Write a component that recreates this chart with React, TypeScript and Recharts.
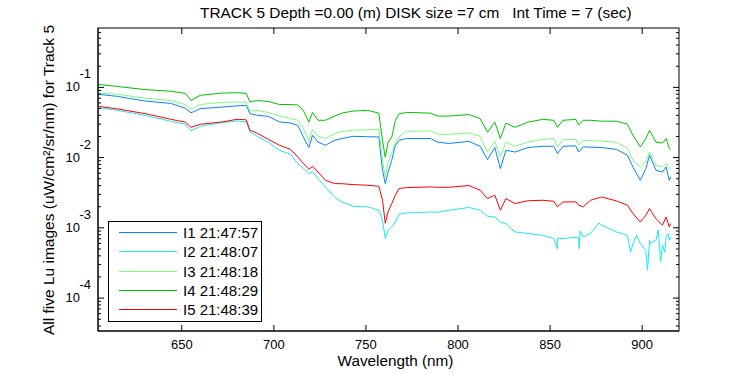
import React from "react";
import { LineChart, Line, XAxis, YAxis } from "recharts";

const FONT = '"Liberation Sans", Arial, Helvetica, sans-serif';

const CHART_W = 750;
const CHART_H = 375;
const MARGIN = { top: 28, right: 71, bottom: 0, left: 0 };
const Y_AXIS_W = 98;
const X_AXIS_H = 44;

// wavelength grid (nm)
const wavelengths = [
  605, 615, 630, 644, 652, 655, 660, 672, 680, 685,
  687, 691, 697, 703, 709, 713, 716, 719, 721, 724,
  728, 733, 737, 743, 751, 757, 759, 760.5, 762, 764,
  766, 768, 772, 785, 789, 795, 806, 812, 816, 820,
  823, 826, 831, 838, 846, 852, 854, 857, 864, 865.5,
  868, 872, 878, 886, 892, 895, 899, 902, 904, 907.5,
  911, 913, 914.7, 915.5,
];

const i1 = [
  0.0795, 0.0744, 0.0639, 0.0591, 0.0503, 0.0434, 0.0498, 0.0524, 0.0545, 0.0554,
  0.0423, 0.04, 0.0387, 0.0322, 0.0311, 0.0288, 0.0197, 0.0139, 0.0208, 0.0166,
  0.015, 0.0176, 0.0187, 0.0201, 0.0198, 0.0197, 0.0066, 0.00427, 0.00618, 0.00916,
  0.015, 0.0176, 0.0187, 0.0187, 0.0166, 0.0159, 0.017, 0.0145, 0.00937, 0.0139,
  0.00698, 0.0127, 0.012, 0.0139, 0.0145, 0.0145, 0.0114, 0.0145, 0.0147, 0.012,
  0.0142, 0.0141, 0.0139, 0.0131, 0.0108, 0.00735, 0.00475, 0.00698, 0.0108, 0.0066,
  0.00624, 0.00735, 0.00475, 0.0053,
];

const i2 = [
  0.0514, 0.0471, 0.04, 0.0329, 0.0298, 0.0241, 0.0279, 0.0315, 0.0332, 0.0322,
  0.0232, 0.0201, 0.0165, 0.0127, 0.0112, 0.00821, 0.00705, 0.00593, 0.00624, 0.00502,
  0.00382, 0.00275, 0.00234, 0.00203, 0.00199, 0.00178, 0.00128, 0.000705, 0.000925, 0.00103,
  0.00121, 0.00156, 0.00163, 0.00168, 0.00167, 0.00178, 0.00195, 0.00178, 0.00146, 0.00143,
  0.00121, 0.00115, 0.000875, 0.00083, 0.000785, 0.000705, 0.000712, 0.000705, 0.000736, 0.000712,
  0.000743, 0.000838, 0.00109, 0.000875, 0.000785, 0.000598, 0.000598, 0.00048, 0.000667, 0.000667,
  0.000566, 0.000743, 0.000667, 0.000743,
];

// noisy spikes in the I2 trace past 850 nm
const i2SpikeW = [853.9, 865.8, 866.3, 876.5, 893.7, 897, 902.9, 904.2, 908.7, 910, 912.3, 914.2];
const i2SpikeV = [0.000505, 0.000505, 0.0009, 0.00117, 0.00045, 0.000785, 0.000249, 0.0006, 0.00094, 0.00033, 0.00045, 0.00083];

const i3 = [
  0.083, 0.08, 0.07, 0.065, 0.057, 0.049, 0.057, 0.061, 0.062, 0.061,
  0.046, 0.047, 0.044, 0.039, 0.036, 0.034, 0.026, 0.017, 0.025, 0.02,
  0.0187, 0.022, 0.0237, 0.0245, 0.0249, 0.0251, 0.00916, 0.0053, 0.0086, 0.0119,
  0.0165, 0.0197, 0.0237, 0.024, 0.0215, 0.0215, 0.0224, 0.0201, 0.012, 0.017,
  0.0102, 0.0166, 0.0145, 0.0166, 0.0182, 0.0187, 0.0142, 0.018, 0.0182, 0.015,
  0.0176, 0.0174, 0.0172, 0.0165, 0.0136, 0.00916, 0.00735, 0.00866, 0.012, 0.00777,
  0.00735, 0.00821, 0.00705, 0.0066,
];

const i4 = [
  0.11, 0.103, 0.093, 0.088, 0.082, 0.065, 0.077, 0.083, 0.084, 0.082,
  0.062, 0.065, 0.063, 0.057, 0.057, 0.056, 0.047, 0.032, 0.044, 0.034,
  0.034, 0.039, 0.043, 0.046, 0.047, 0.043, 0.0176, 0.0101, 0.0166, 0.0195,
  0.034, 0.042, 0.044, 0.043, 0.039, 0.039, 0.041, 0.036, 0.023, 0.032,
  0.0187, 0.031, 0.027, 0.032, 0.035, 0.034, 0.027, 0.034, 0.035, 0.029,
  0.034, 0.034, 0.033, 0.033, 0.03, 0.0208, 0.0142, 0.0187, 0.0245, 0.0166,
  0.0161, 0.0187, 0.0135, 0.0127,
];

const i5 = [
  0.0536, 0.0494, 0.0423, 0.0351, 0.0319, 0.027, 0.0298, 0.0322, 0.0351, 0.0345,
  0.0245, 0.0222, 0.0182, 0.015, 0.0131, 0.0102, 0.00829, 0.00682, 0.00752, 0.00624,
  0.00475, 0.00427, 0.00425, 0.00413, 0.00404, 0.00391, 0.00247, 0.00116, 0.00168, 0.00222,
  0.00291, 0.00363, 0.00374, 0.00382, 0.00378, 0.00378, 0.004, 0.00343, 0.00261, 0.00291,
  0.00178, 0.00261, 0.00222, 0.00243, 0.00247, 0.00239, 0.00199, 0.00234, 0.00234, 0.0021,
  0.00199, 0.00247, 0.00275, 0.00242, 0.0021, 0.0016, 0.00121, 0.00151, 0.00188, 0.00135,
  0.00109, 0.00143, 0.00103, 0.00115,
];

const seriesKeys = ["i1", "i2", "i3", "i4", "i5"];
const seriesNames = ["I1 21:47:57", "I2 21:48:07", "I3 21:48:18", "I4 21:48:29", "I5 21:48:39"];
const seriesColors = ["#0a80ff", "#1ae8f2", "#80f880", "#00c400", "#ff0000"];

const xTicks = [650, 700, 750, 800, 850, 900];
const yTicks = [
  4e-5, 5e-5, 6e-5, 7e-5, 8e-5, 9e-5,
  1e-4, 2e-4, 3e-4, 4e-4, 5e-4, 6e-4, 7e-4, 8e-4, 9e-4,
  1e-3, 2e-3, 3e-3, 4e-3, 5e-3, 6e-3, 7e-3, 8e-3, 9e-3,
  1e-2, 2e-2, 3e-2, 4e-2, 5e-2, 6e-2, 7e-2, 8e-2, 9e-2,
  0.1, 0.2, 0.3, 0.4, 0.5, 0.6,
];

const X_DOMAIN = [604.5, 920];
const Y_DOMAIN = [3.4e-5, 0.7];

const data = [
  ...wavelengths.map((w, i) => ({ w, i1: i1[i], i2: i2[i], i3: i3[i], i4: i4[i], i5: i5[i] })),
  ...i2SpikeW.map((w, i) => ({ w, i2: i2SpikeV[i] })),
].sort((a, b) => a.w - b.w);

const isDecade = (v: number) => {
  const l = Math.log10(v);
  return Math.abs(l - Math.round(l)) < 1e-6;
};

// plot box, from the layout constants
const BOX = {
  left: MARGIN.left + Y_AXIS_W,
  right: CHART_W - MARGIN.right,
  top: MARGIN.top,
  bottom: CHART_H - MARGIN.bottom - X_AXIS_H,
};

const BottomTick = (props: any) => {
  const { x, y, payload } = props;
  return (
    <g>
      <line x1={x} x2={x} y1={y} y2={y - 6} stroke="#000" />
      <text x={x} y={y + 18} textAnchor="middle" fontSize={13} fontFamily={FONT} fill="#000">
        {payload.value}
      </text>
    </g>
  );
};

const LeftTick = (props: any) => {
  const { x, y, payload } = props;
  const major = isDecade(payload.value);
  const exp = Math.round(Math.log10(payload.value));
  return (
    <g>
      <line x1={x} x2={x + (major ? 6 : 3)} y1={y} y2={y} stroke="#000" />
      {major && (
        <g fontFamily={FONT} fontSize={13} fill="#000">
          <text x={x - 18} y={y + 4} textAnchor="end">10</text>
          <text x={x - 7} y={y - 9} textAnchor="end">{exp}</text>
        </g>
      )}
    </g>
  );
};

// top and right edges of the box with their mirrored ticks
const Frame = () => {
  const w = BOX.right - BOX.left;
  const h = BOX.bottom - BOX.top;
  const xPos = (t: number) => BOX.left + ((t - X_DOMAIN[0]) / (X_DOMAIN[1] - X_DOMAIN[0])) * w;
  const l0 = Math.log10(Y_DOMAIN[0]);
  const l1 = Math.log10(Y_DOMAIN[1]);
  const yPos = (t: number) => BOX.bottom - ((Math.log10(t) - l0) / (l1 - l0)) * h;
  return (
    <svg
      width={CHART_W}
      height={CHART_H}
      style={{ position: "absolute", left: 0, top: 0, pointerEvents: "none" }}
    >
      <rect x={BOX.left} y={BOX.top} width={w} height={h} fill="none" stroke="#000" />
      {xTicks.map((t) => (
        <line key={t} x1={xPos(t)} x2={xPos(t)} y1={BOX.top} y2={BOX.top + 6} stroke="#000" />
      ))}
      {yTicks.map((t) => (
        <line
          key={t}
          x1={BOX.right}
          x2={BOX.right - (isDecade(t) ? 6 : 3)}
          y1={yPos(t)}
          y2={yPos(t)}
          stroke="#000"
        />
      ))}
    </svg>
  );
};

export default function App() {
  return (
    <div style={{ position: "absolute", left: 0, top: 0, width: CHART_W, height: CHART_H, background: "#fff" }}>
      <LineChart width={CHART_W} height={CHART_H} margin={MARGIN} data={data}>
        <XAxis
          dataKey="w"
          type="number"
          domain={X_DOMAIN}
          ticks={xTicks}
          interval={0}
          height={X_AXIS_H}
          tickSize={0}
          tickMargin={0}
          tickLine={false}
          axisLine={{ stroke: "#000" }}
          tick={<BottomTick />}
        />
        <YAxis
          type="number"
          scale="log"
          domain={Y_DOMAIN}
          ticks={yTicks}
          interval={0}
          width={Y_AXIS_W}
          tickSize={0}
          tickMargin={0}
          tickLine={false}
          axisLine={{ stroke: "#000" }}
          tick={<LeftTick />}
        />
        {seriesKeys.map((k, idx) => (
          <Line
            key={k}
            dataKey={k}
            name={seriesNames[idx]}
            stroke={seriesColors[idx]}
            strokeWidth={1}
            dot={false}
            type="linear"
            connectNulls
            isAnimationActive={false}
          />
        ))}
      </LineChart>
      <Frame />
      <div
        style={{
          position: "absolute",
          left: 108,
          top: 221,
          boxSizing: "border-box",
          width: 154,
          height: 101,
          border: "1px solid #000",
          background: "#fff",
          paddingTop: 1,
          fontFamily: FONT,
          fontSize: 15,
          color: "#000",
        }}
      >
        {seriesNames.map((name, idx) => (
          <div key={name} style={{ display: "flex", alignItems: "center", height: 19.3 }}>
            <span style={{ display: "inline-block", marginLeft: 10, width: 58, borderTop: `1px solid ${seriesColors[idx]}` }} />
            <span style={{ marginLeft: 6, whiteSpace: "nowrap" }}>{name}</span>
          </div>
        ))}
      </div>
      <div
        style={{
          position: "absolute",
          left: 200,
          top: 4,
          fontFamily: FONT,
          fontSize: 15.4,
          lineHeight: "normal",
          whiteSpace: "pre",
          color: "#000",
        }}
      >
        {"TRACK 5 Depth =0.00 (m) DISK size =7 cm   Int Time = 7 (sec)"}
      </div>
      <div
        style={{
          position: "absolute",
          left: 0,
          width: 791,
          top: 352,
          textAlign: "center",
          fontFamily: FONT,
          fontSize: 15.3,
          color: "#000",
        }}
      >
        Wavelength (nm)
      </div>
      <div
        style={{
          position: "absolute",
          left: 49,
          top: 180,
          transform: "translate(-50%, -50%) rotate(-90deg)",
          fontFamily: FONT,
          fontSize: 15.5,
          whiteSpace: "nowrap",
          color: "#000",
        }}
      >
        All five Lu images (uW/cm²/sr/nm) for Track 5
      </div>
    </div>
  );
}
